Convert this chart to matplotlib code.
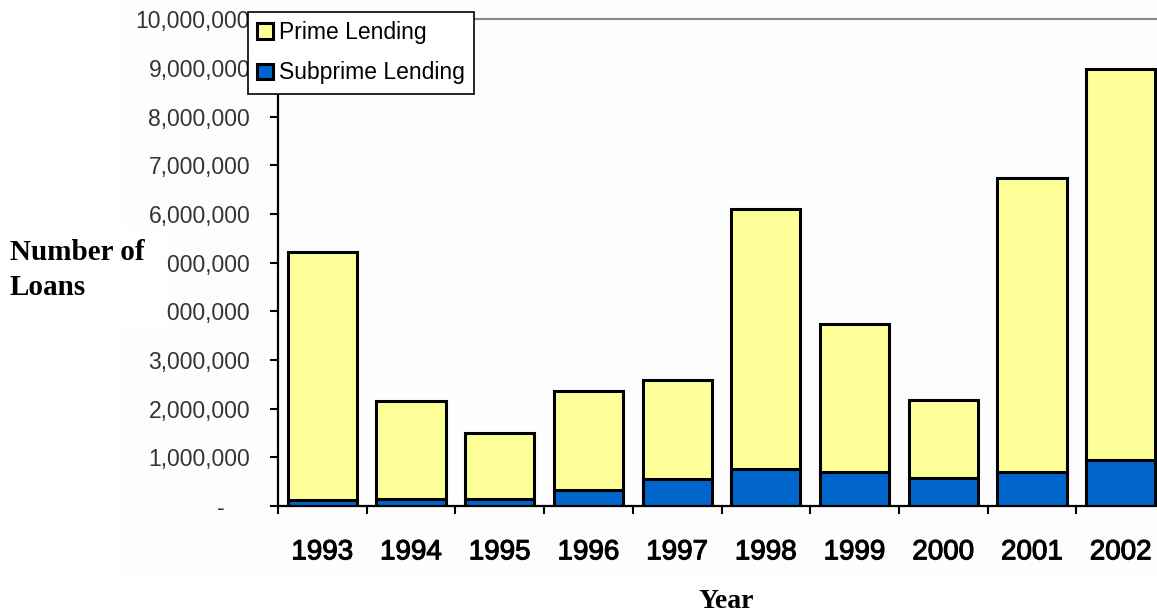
import matplotlib
matplotlib.use('Agg')
from matplotlib import pyplot as plt
from matplotlib import patheffects
from matplotlib.patches import Rectangle
from matplotlib.ticker import FuncFormatter, FixedLocator

# Data
years = ['1993', '1994', '1995', '1996', '1997', '1998', '1999', '2000', '2001', '2002']
subprime = [120000, 140000, 150000, 330000, 555000, 770000, 700000, 570000, 690000, 950000]
prime = [5100000, 2020000, 1340000, 2030000, 2035000, 5330000, 3050000, 1610000, 6060000, 8030000]
y_ticks = [0, 1000000, 2000000, 3000000, 4000000, 5000000, 6000000, 7000000, 8000000, 9000000, 10000000]

plt.rcParams['font.family'] = ['Liberation Sans', 'DejaVu Sans']

W, H = 1157, 614
fig = plt.figure(figsize=(W / 100, H / 100), dpi=100)

# chart background (barely off-white) and white box behind the y title
fig.patches.append(Rectangle((123 / W, 1 - 577 / H), 1, 577 / H, transform=fig.transFigure,
                             facecolor='#fdfdfd', edgecolor='none', zorder=-1))
fig.patches.append(Rectangle((0, 1 - 330 / H), 167 / W, 102 / H, transform=fig.transFigure,
                             facecolor='white', edgecolor='none', zorder=1))

left, right, bottom, top = 278, 1165, 506, 19.4
ax = fig.add_axes([left / W, 1 - bottom / H, (right - left) / W, (bottom - top) / H])
ax.set_facecolor('none')

x = list(range(len(years)))
b_sub = ax.bar(x, subprime, width=0.78, color='#0066cc', edgecolor='black', linewidth=2.2,
               label='Subprime Lending')
b_prime = ax.bar(x, prime, width=0.78, bottom=subprime, color='#ffff99', edgecolor='black',
                 linewidth=2.2, label='Prime Lending')

ax.set_xlim(-0.5, len(years) - 0.5)
ax.set_ylim(0, 10000000)

# axes
ax.spines['right'].set_visible(False)
ax.spines['top'].set_color('#888888')
ax.spines['top'].set_linewidth(1.5)
for s in ['left', 'bottom']:
    ax.spines[s].set_linewidth(1.6)
    ax.spines[s].set_color('black')

ax.set_yticks(y_ticks)
ax.yaxis.set_major_formatter(FuncFormatter(lambda v, p: '-    ' if v == 0 else '{:,}'.format(int(v))))
ax.tick_params(axis='y', direction='out', length=6, width=1.5, pad=14,
               labelsize=16.5, labelcolor='#333333')

ax.set_xticks(x)
ax.set_xticklabels(years)
ax.tick_params(axis='x', which='major', length=0, pad=24, labelsize=20, labelcolor='black')
ax.xaxis.set_minor_locator(FixedLocator([i - 0.5 for i in range(len(years) + 1)]))
ax.tick_params(axis='x', which='minor', direction='out', length=6, width=1.5)
# a bit heavier than regular, lighter than bold
for t in ax.get_xticklabels():
    t.set_path_effects([patheffects.withStroke(linewidth=0.8, foreground='black')])

# titles
fig.text(10 / W, 1 - 239 / H, 'Number of\nLoans', ha='left', va='top', fontsize=21,
         fontweight='bold', family='Liberation Serif', linespacing=1.4, zorder=2)
fig.text(726 / W, 1 - 602 / H, 'Year', ha='center', va='center', fontsize=20,
         fontweight='bold', family='Liberation Serif')

# Legend
leg = fig.legend(handles=[b_prime, b_sub], labels=['Prime Lending', 'Subprime Lending'],
                 loc='upper left', bbox_to_anchor=(248 / W, 1 - 12 / H), borderaxespad=0,
                 fontsize=16.5, handlelength=0.7, handleheight=0.65, handletextpad=0.25,
                 labelspacing=0.75, borderpad=0.4, fancybox=False, framealpha=1,
                 edgecolor='black')
leg.get_frame().set_linewidth(1.2)
leg.set_zorder(10)

fig.savefig('out.png', dpi=100)
